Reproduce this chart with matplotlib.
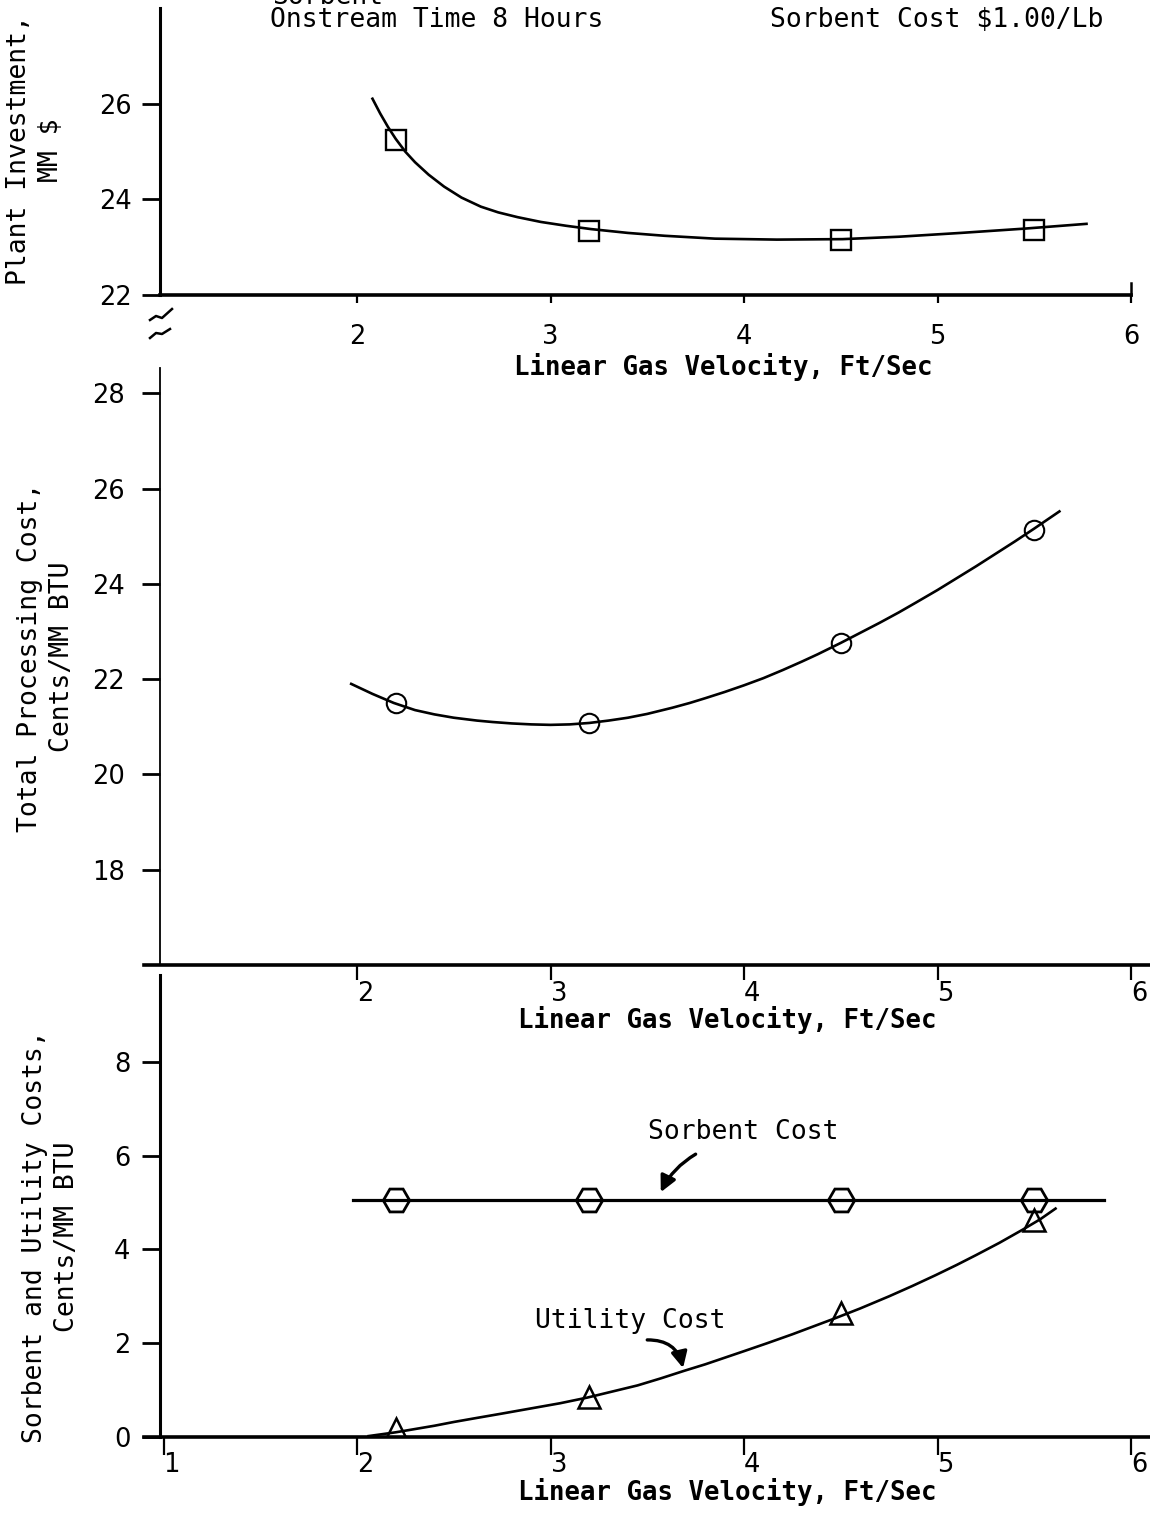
import matplotlib
matplotlib.use("Agg")
import matplotlib.pyplot as plt
from matplotlib import font_manager

# ---- measured points (linear gas velocity, ft/sec) ----
velocity = [2.2, 3.2, 4.5, 5.5]
plant_investment = [25.25, 23.34, 23.15, 23.36]     # MM $
processing_cost = [21.50, 21.08, 22.76, 25.13]      # cents / MM BTU
sorbent_cost = [5.05, 5.05, 5.05, 5.05]             # cents / MM BTU
utility_cost = [0.18, 0.85, 2.65, 4.62]             # cents / MM BTU

# ---- hand-faired curves through the points ----
inv_curve_v = [2.08, 2.12, 2.16, 2.20, 2.25, 2.30, 2.37, 2.45, 2.54, 2.64,
               2.73, 2.83, 2.95, 3.08, 3.21, 3.40, 3.59, 3.85, 4.17, 4.51,
               4.80, 5.12, 5.45, 5.77]
inv_curve_c = [26.11, 25.80, 25.52, 25.27, 25.00, 24.78, 24.52, 24.27, 24.04,
               23.85, 23.73, 23.63, 23.53, 23.45, 23.38, 23.30, 23.24, 23.18,
               23.16, 23.17, 23.22, 23.30, 23.39, 23.49]

proc_curve_v = [1.97, 2.08, 2.19, 2.30, 2.40, 2.50, 2.62, 2.70, 2.80, 2.90,
                3.00, 3.10, 3.20, 3.30, 3.40, 3.50, 3.63, 3.72, 3.80, 3.90,
                4.00, 4.10, 4.20, 4.30, 4.38, 4.50, 4.60, 4.70, 4.80, 4.89,
                5.00, 5.14, 5.20, 5.30, 5.40, 5.50, 5.63]
proc_curve_c = [21.90, 21.69, 21.50, 21.35, 21.26, 21.19, 21.13, 21.10, 21.07,
                21.05, 21.04, 21.05, 21.08, 21.13, 21.19, 21.27, 21.40, 21.50,
                21.60, 21.73, 21.87, 22.02, 22.19, 22.37, 22.52, 22.76, 22.97,
                23.18, 23.40, 23.61, 23.87, 24.22, 24.37, 24.63, 24.89, 25.16,
                25.52]

sorbent_line_v = [1.98, 5.86]
sorbent_line_c = [5.05, 5.05]

util_curve_v = [2.06, 2.13, 2.20, 2.30, 2.40, 2.50, 2.61, 2.75, 2.90, 3.05,
                3.19, 3.32, 3.45, 3.57, 3.69, 3.80, 3.90, 4.00, 4.12, 4.25,
                4.36, 4.47, 4.60, 4.75, 4.87, 4.99, 5.10, 5.20, 5.32, 5.44,
                5.53, 5.61]
util_curve_c = [0.02, 0.06, 0.10, 0.17, 0.24, 0.32, 0.40, 0.50, 0.61, 0.72,
                0.84, 0.97, 1.10, 1.25, 1.41, 1.55, 1.69, 1.83, 2.00, 2.19,
                2.36, 2.53, 2.74, 3.00, 3.22, 3.45, 3.67, 3.88, 4.14, 4.42,
                4.64, 4.87]

# ---- axis ticks ----
top_xticks = [2, 3, 4, 5, 6]
top_yticks = [22, 24, 26]
mid_xticks = [2, 3, 4, 5, 6]
mid_yticks = [18, 20, 22, 24, 26, 28]
bot_xticks = [1, 2, 3, 4, 5, 6]
bot_yticks = [0, 2, 4, 6, 8]

x_label = "Linear Gas Velocity, Ft/Sec"


def pick_font(name, fallback):
    try:
        font_manager.findfont(font_manager.FontProperties(family=name),
                              fallback_to_default=False)
        return name
    except Exception:
        return fallback


MONO = "DejaVu Sans Mono"
NUM = pick_font("Liberation Sans Narrow", "DejaVu Sans")
NUM_SIZE = 22 if NUM != "DejaVu Sans" else 18.5

plt.rcParams["font.family"] = [MONO, "DejaVu Sans"]

W, H = 1150, 1517
fig = plt.figure(figsize=(W / 100, H / 100), dpi=100)
fig.patch.set_facecolor("white")


def fx(px):
    return px / W


def fy(py):
    return 1 - py / H


LEFT = fx(144.15)
WIDTH = 1010.07 / W
XLIM = (0.9, 6.12)
AX_LW = 2.2

ax1 = fig.add_axes([LEFT, fy(295), WIDTH, 287 / H])
ax2 = fig.add_axes([LEFT, fy(965), WIDTH, 597 / H])
ax3 = fig.add_axes([LEFT, fy(1437), WIDTH, 462 / H])

for ax in (ax1, ax2, ax3):
    ax.set_xlim(*XLIM)
    ax.set_facecolor("none")
    ax.spines["top"].set_visible(False)
    ax.spines["right"].set_visible(False)
    ax.spines["left"].set_position(("data", 0.98))
    ax.spines["left"].set_linewidth(AX_LW)
    ax.spines["bottom"].set_linewidth(AX_LW + 0.4)
    ax.tick_params(axis="y", direction="out", length=13, width=2.0,
                   labelsize=NUM_SIZE)
    ax.tick_params(axis="x", width=1.6, labelsize=NUM_SIZE)

# ---- top panel: plant investment ----
ax1.set_ylim(22, 28.01)
ax1.spines["bottom"].set_bounds(0.98, 6.0)
ax1.set_yticks(top_yticks, [str(v) for v in top_yticks], family=NUM)
ax1.set_xticks(top_xticks, [str(v) for v in top_xticks], family=NUM)
ax1.tick_params(axis="x", direction="out", length=6, pad=15)
ax1.tick_params(axis="y", pad=7)
ax1.plot([top_xticks[-1]] * 2, [22, 22.25], color="black", lw=1.8,
         clip_on=False)
ax1.plot(inv_curve_v, inv_curve_c, color="black", lw=1.9)
ax1.plot(velocity, plant_investment, ls="none", marker="s", ms=14,
         mfc="none", mec="black", mew=1.7)


# axis-break strokes below the origin
def px_to_ax1(pts):
    return ([(p[0] - 144.15) / 1010.07 for p in pts],
            [(295 - p[1]) / 287 for p in pts])


for stroke in ([(150, 320), (156, 316), (162, 318), (172, 309)],
               [(150, 338), (156, 333), (162, 334), (170, 329)]):
    sx, sy = px_to_ax1(stroke)
    ax1.plot(sx, sy, color="black", lw=1.8, transform=ax1.transAxes,
             clip_on=False)

# ---- middle panel: total processing cost ----
ax2.set_ylim(16, 28.53)
ax2.spines["left"].set_linewidth(1.3)
ax2.set_yticks(mid_yticks, [str(v) for v in mid_yticks], family=NUM)
ax2.set_xticks(mid_xticks, [str(v) for v in mid_xticks], family=NUM,
               ha="left")
ax2.tick_params(axis="x", direction="out", length=11, pad=0.5)
ax2.tick_params(axis="y", pad=12)
ax2.plot(proc_curve_v, proc_curve_c, color="black", lw=1.9)
ax2.plot(velocity, processing_cost, ls="none", marker="o", ms=14,
         mfc="none", mec="black", mew=1.5)

# ---- bottom panel: sorbent and utility costs ----
ax3.set_ylim(0, 9.85)
ax3.set_yticks(bot_yticks, [str(v) for v in bot_yticks], family=NUM)
ax3.set_xticks(bot_xticks, [str(v) for v in bot_xticks], family=NUM,
               ha="left")
ax3.tick_params(axis="x", direction="out", length=13, pad=-2)
ax3.tick_params(axis="y", pad=8)
ax3.plot(sorbent_line_v, sorbent_line_c, color="black", lw=2.3)
ax3.plot(velocity, sorbent_cost, ls="none", marker="H", ms=19,
         mfc="none", mec="black", mew=2.0)
ax3.plot(util_curve_v, util_curve_c, color="black", lw=1.9)
ax3.plot(velocity, utility_cost, ls="none", marker="^", ms=16,
         mfc="none", mec="black", mew=1.8)

ax3.text(3.995, 6.5, "Sorbent Cost", ha="center", va="center", fontsize=19)
ax3.annotate("", xy=(3.57, 5.22), xytext=(3.75, 6.03),
             arrowprops=dict(arrowstyle="-|>", lw=2.4, color="black",
                             mutation_scale=24, shrinkA=0, shrinkB=0,
                             connectionstyle="arc3,rad=0.15"))
ax3.text(3.41, 2.47, "Utility Cost", ha="center", va="center", fontsize=19)
ax3.annotate("", xy=(3.685, 1.47), xytext=(3.50, 2.07),
             arrowprops=dict(arrowstyle="-|>", lw=2.4, color="black",
                             mutation_scale=24, shrinkA=0, shrinkB=0,
                             connectionstyle="arc3,rad=-0.4"))

# ---- axis titles ----
ylab = dict(rotation=90, ha="center", va="center", multialignment="center",
            fontsize=19, linespacing=1.3)
fig.text(fx(35), fy(150), "Plant Investment,\nMM $", **ylab)
fig.text(fx(46), fy(657), "Total Processing Cost,\nCents/MM BTU", **ylab)
fig.text(fx(51), fy(1237), "Sorbent and Utility Costs,\nCents/MM BTU", **ylab)

xlab = dict(ha="center", va="center", fontsize=18.5, fontweight="bold")
fig.text(fx(723), fy(367), x_label, **xlab)
fig.text(fx(727), fy(1020), x_label, **xlab)
fig.text(fx(727), fy(1492), x_label, **xlab)

# ---- header notes ----
fig.text(fx(272), fy(4), "Sorbent", ha="left", va="baseline", fontsize=19)
fig.text(fx(270), fy(20), "Onstream Time 8 Hours", ha="left", va="center",
         fontsize=19)
fig.text(fx(770), fy(20), "Sorbent Cost $1.00/Lb", ha="left", va="center",
         fontsize=19)

fig.savefig("out.png", dpi=100, facecolor="white")
